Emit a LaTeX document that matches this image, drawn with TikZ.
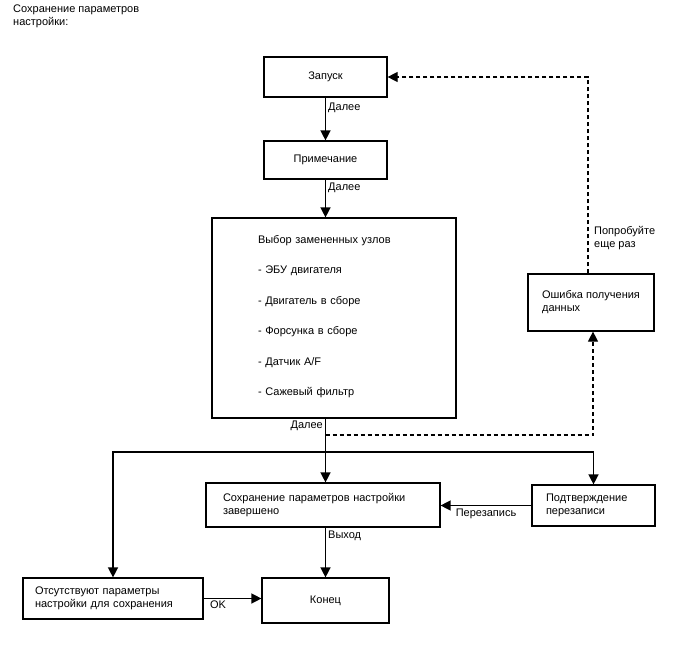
\documentclass[tikz,border=0pt]{standalone}
\usepackage{fontspec}
\setmainfont{Liberation Sans}
\usetikzlibrary{arrows.meta,positioning,calc}
\tikzset{
	box/.style={draw,line width=1.2pt,align=left,font=\fontsize{11}{13}\selectfont,inner ysep=0pt},
	lbl/.style={font=\fontsize{11}{13}\selectfont,inner sep=2pt},
	arr/.style={-{Triangle[length=10pt,width=10pt]},line width=1.4pt},
	darr/.style={arr,line width=1.2pt,dash pattern=on 4pt off 3pt}
}
\begin{document}
\begin{tikzpicture}[x=1pt,y=-1pt]
		\useasboundingbox (0,0) rectangle (688,658);
		\node[lbl,anchor=north west,align=left] (title) at (11,3) {Сохранение параметров\\настройки:};
		\node[box,align=center,minimum width=123pt,minimum height=40pt] (start) at (325.5,77) {Запуск};
		\node[box,align=center,minimum width=123pt,minimum height=38pt] (note) at (325.5,160) {Примечание};
		\node[box,font=\fontsize{11}{30.5}\selectfont,inner xsep=46pt,text width=152pt,minimum height=200pt] (pick) at (334,318)
			{Выбор замененных узлов\\- ЭБУ двигателя\\- Двигатель в сборе\\- Форсунка в сборе\\- Датчик A/F\\- Сажевый фильтр\vspace{3pt}};
		\node[box,minimum width=126pt,minimum height=57pt] (err) at (591,302.5) {Ошибка получения\\данных};
		\node[box,inner xsep=17pt,text width=200pt,minimum height=44pt] (save) at (323,505) {Сохранение параметров настройки\\завершено};
		\node[box,inner xsep=14pt,text width=95pt,minimum height=41pt] (confirm) at (593.5,505.5) {Подтверждение\\перезаписи};
		\node[box,inner xsep=12pt,text width=156pt,minimum height=41pt] (none) at (113,598.5) {Отсутствуют параметры\\настройки для сохранения};
		\node[box,align=center,minimum width=127pt,minimum height=45pt] (fin) at (325.5,600.5) {Конец};
		% main line
		\coordinate (split) at (325.5,435);
		\coordinate (bus) at (325.5,452);
		\draw[arr] (start) -- node[lbl,right,pos=0.25]{Далее} (note);
		\draw[arr] (note) -- node[lbl,right,pos=0.23]{Далее} (pick.north -| note);
		\draw[arr] (pick.south -| note) -- node[lbl,anchor=north east,pos=0]{Далее} (save.north -| note);
		\draw[arr] (bus) -| (none.north);
		\draw[arr] (bus) -| (confirm.north);
		\draw[arr] (confirm.west) -- node[lbl,below,yshift=-1pt]{Перезапись} (confirm.west -| save.east);
		\draw[arr] (save.south -| note) -- node[lbl,right,pos=0.16]{Выход} (fin);
		\draw[arr] (none.east) -- node[lbl,below,pos=0.25]{OK} (none.east -| fin.west);
		% retry loop
		\draw[darr] (split) -| ([xshift=2pt]err.south);
		\draw[darr] ([xshift=-3pt]err.north) |- (start.east);
		\node[lbl,anchor=west,align=left] (retry) at (592,238.5) {Попробуйте\\еще раз};
	\end{tikzpicture}
\end{document}
